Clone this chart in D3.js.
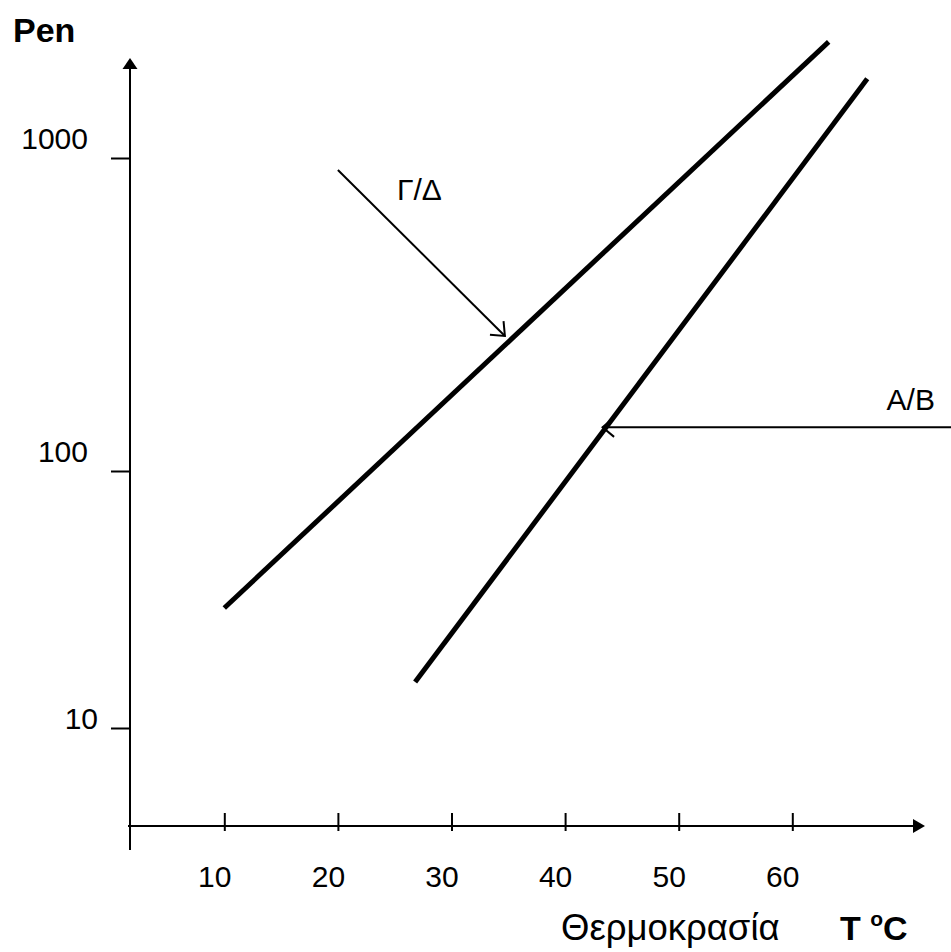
<!DOCTYPE html>
<html>
<head>
<meta charset="utf-8">
<script src="https://cdn.jsdelivr.net/npm/d3@7"></script>
<style>
  body { margin: 0; background: #fff; }
  svg text { font-family: "Liberation Sans", Arial, sans-serif; fill: #000; }
</style>
</head>
<body>
<div id="chart"></div>
<script>
// values
const xTicks = [10, 20, 30, 40, 50, 60];
const yTicks = [10, 100, 1000];
const seriesNames = ["Γ/Δ", "A/B"];
const seriesT = [[10, 63.2], [26.8, 66.6]];
const seriesPen = [[29.3, 2350], [15.1, 1790]];
// annotation arrows: [T, Pen] from -> to
const labelNames = ["Γ/Δ", "A/B"];
const labelPos = [[25.2, 735], [68.3, 157]];
const arrowFrom = [[20, 916], [74, 138]];
const arrowTo = [[34.7, 270], [43.3, 138]];

const width = 951, height = 952;
const originX = 130, originY = 826;

const svg = d3.select("#chart")
    .append("svg")
    .attr("width", width)
    .attr("height", height);

const x = d3.scaleLinear()
    .domain([0, 60])
    .range([110.7, 792.3]);

// the drawing is hand made, the decades are not equally spaced
const y = d3.scaleLog()
    .domain([10, 100, 1000])
    .range([728, 471, 158]);

// y axis
svg.append("line")
    .attr("x1", originX).attr("x2", originX)
    .attr("y1", 850).attr("y2", 66)
    .attr("stroke", "black").attr("stroke-width", 2);
svg.append("path")
    .attr("d", `M${originX},58 L${originX - 7.5},69 L${originX + 7.5},69 Z`)
    .attr("fill", "black");

const yAxis = svg.append("g")
    .attr("transform", `translate(${originX},0)`)
    .call(d3.axisLeft(y).tickValues(yTicks).tickFormat(d3.format("d")).tickSize(19));
yAxis.select(".domain").remove();
yAxis.selectAll(".tick line").attr("stroke", "black").attr("stroke-width", 2);
yAxis.selectAll(".tick text")
    // the lowest label sits a bit lower and to the right in the original
    .attr("x", d => d === 10 ? -32 : -42)
    .attr("dy", d => d === 10 ? 0 : -10)
    .style("font-size", "30px")
    .style("font-family", "'Liberation Sans', Arial, sans-serif")
    .attr("text-anchor", "end")
    .attr("fill", "black");

// x axis
svg.append("line")
    .attr("x1", 128).attr("x2", 916)
    .attr("y1", originY).attr("y2", originY)
    .attr("stroke", "black").attr("stroke-width", 2);
svg.append("path")
    .attr("d", `M925,${originY} L913,${originY - 7} L913,${originY + 7} Z`)
    .attr("fill", "black");

const xAxis = svg.append("g")
    .attr("transform", `translate(0,${originY})`)
    .call(d3.axisBottom(x).tickValues(xTicks).tickFormat(d3.format("d")));
xAxis.select(".domain").remove();
xAxis.selectAll(".tick line")
    .attr("y1", -13).attr("y2", 5)
    .attr("stroke", "black").attr("stroke-width", 2);
xAxis.selectAll(".tick text")
    .attr("x", -10)
    .attr("y", 61)
    .attr("dy", 0)
    .style("font-size", "30px")
    .style("font-family", "'Liberation Sans', Arial, sans-serif")
    .attr("fill", "black");

// axis titles
svg.append("text")
    .attr("x", 13).attr("y", 42)
    .style("font-size", "34px")
    .style("font-weight", "bold")
    .text("Pen");

svg.append("text")
    .attr("x", 561).attr("y", 940)
    .style("font-size", "36.5px")
    .text("Θερμοκρασία");

const unit = svg.append("text")
    .attr("x", 840).attr("y", 940)
    .style("font-size", "34px")
    .style("font-weight", "bold");
unit.append("tspan").text("T ");
unit.append("tspan").attr("dy", -14).style("font-size", "21px").text("o");
unit.append("tspan").attr("dy", 14).text("C");

// the two lines
const line = d3.line()
    .x(d => x(d[0]))
    .y(d => y(d[1]));

seriesNames.forEach((name, i) => {
    const pts = seriesT[i].map((t, j) => [t, seriesPen[i][j]]);
    svg.append("path")
        .datum(pts)
        .attr("d", line)
        .attr("fill", "none")
        .attr("stroke", "black")
        .attr("stroke-width", 5)
        .attr("stroke-linecap", "butt");
});

// labels with their pointers
labelNames.forEach((name, i) => {
    svg.append("text")
        .attr("x", x(labelPos[i][0]))
        .attr("y", y(labelPos[i][1]))
        .style("font-size", "30px")
        .text(name);

    const x1 = x(arrowFrom[i][0]), y1 = y(arrowFrom[i][1]);
    const x2 = x(arrowTo[i][0]), y2 = y(arrowTo[i][1]);
    svg.append("line")
        .attr("x1", x1).attr("y1", y1)
        .attr("x2", x2).attr("y2", y2)
        .attr("stroke", "black").attr("stroke-width", 2);

    const a = Math.atan2(y1 - y2, x1 - x2);
    const len = 15, spread = Math.PI / 4.5;
    const p1 = [x2 + len * Math.cos(a - spread), y2 + len * Math.sin(a - spread)];
    const p2 = [x2 + len * Math.cos(a + spread), y2 + len * Math.sin(a + spread)];
    svg.append("path")
        .attr("d", `M${p1[0]},${p1[1]} L${x2},${y2} L${p2[0]},${p2[1]}`)
        .attr("fill", "none")
        .attr("stroke", "black").attr("stroke-width", 2);
});
</script>
</body>
</html>
